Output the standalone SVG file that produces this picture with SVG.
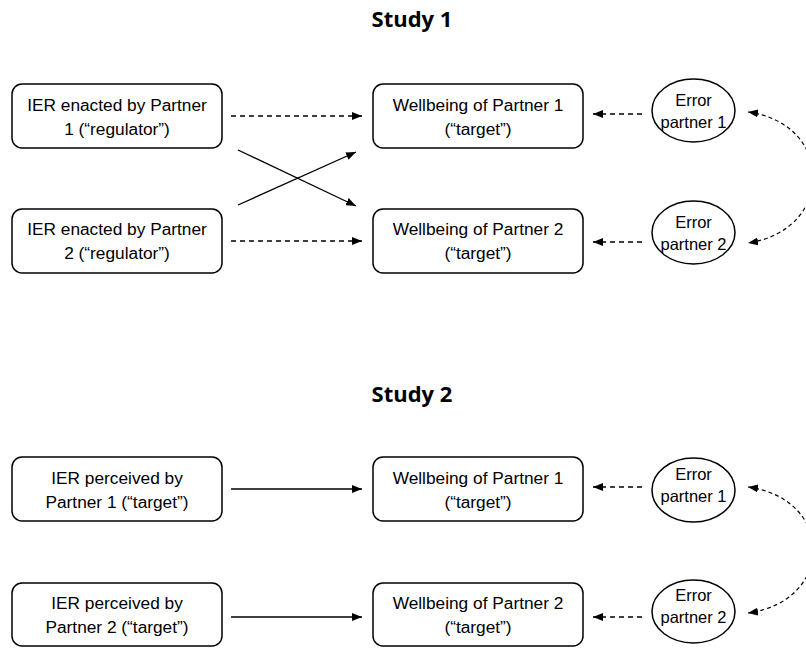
<svg xmlns="http://www.w3.org/2000/svg" width="806" height="648" viewBox="0 0 806 648">
<defs>
<style>
.box{fill:#fff;stroke:#000;stroke-width:1.5}
.ell{fill:#fff;stroke:#000;stroke-width:1.5}
.t{font-family:"Liberation Sans",Arial,sans-serif;font-size:17.3px;text-anchor:middle;fill:#000}
.te{font-family:"Liberation Sans",Arial,sans-serif;font-size:16.5px;text-anchor:middle;fill:#000}
.title{font-family:"Open Sans","Liberation Sans",sans-serif;font-size:22px;font-weight:bold;text-anchor:middle;fill:#000}
.solid{fill:none;stroke:#000;stroke-width:1.3;marker-end:url(#ah)}
.dash{fill:none;stroke:#000;stroke-width:1.3;stroke-dasharray:5,4;marker-end:url(#ah)}
.curve{fill:none;stroke:#000;stroke-width:1.2;stroke-dasharray:4,3;marker-start:url(#ah);marker-end:url(#ah)}
</style>
<marker id="ah" viewBox="0 0 10 8" refX="10" refY="4" markerWidth="10" markerHeight="8" markerUnits="userSpaceOnUse" orient="auto-start-reverse">
<path d="M0,0 L10,4 L0,8 Z" fill="#000"/>
</marker>
</defs>

<text class="title" x="412" y="27">Study 1</text>
<text class="title" x="412" y="402">Study 2</text>

<g id="connectors">
<line class="dash" x1="231" y1="116" x2="362" y2="116"/>
<line class="dash" x1="231" y1="241" x2="362" y2="241"/>
<line class="solid" x1="238" y1="150" x2="356" y2="206"/>
<line class="solid" x1="238" y1="205" x2="356" y2="152"/>
<line class="dash" x1="642" y1="114" x2="593" y2="114"/>
<line class="dash" x1="642" y1="242" x2="593" y2="242"/>
<path class="curve" d="M748,112 C835,124 835,230 748,243"/>
<line class="solid" x1="231" y1="489" x2="362" y2="489"/>
<line class="solid" x1="231" y1="617" x2="362" y2="617"/>
<line class="dash" x1="642" y1="487" x2="593" y2="487"/>
<line class="dash" x1="642" y1="617" x2="593" y2="617"/>
<path class="curve" d="M748,487 C835,499 835,601 748,613"/>
</g>

<g id="s1_ier1"><rect class="box" x="12" y="84" width="210" height="64" rx="10"/>
<text class="t" x="117" y="111">IER enacted by Partner</text><text class="t" x="117" y="135">1 (“regulator”)</text></g>
<g id="s1_ier2"><rect class="box" x="12" y="209" width="210" height="64" rx="10"/>
<text class="t" x="117" y="235">IER enacted by Partner</text><text class="t" x="117" y="259">2 (“regulator”)</text></g>
<g id="s1_wb1"><rect class="box" x="373" y="84" width="210" height="64" rx="10"/>
<text class="t" x="478" y="111">Wellbeing of Partner 1</text><text class="t" x="478" y="135">(“target”)</text></g>
<g id="s1_wb2"><rect class="box" x="373" y="209" width="210" height="64" rx="10"/>
<text class="t" x="478" y="235">Wellbeing of Partner 2</text><text class="t" x="478" y="259">(“target”)</text></g>
<g id="s1_err1"><ellipse class="ell" cx="693.5" cy="110.5" rx="41.5" ry="31.5"/>
<text class="te" x="693.5" y="106">Error</text><text class="te" x="693.5" y="128">partner 1</text></g>
<g id="s1_err2"><ellipse class="ell" cx="693.5" cy="232.5" rx="41.5" ry="31.5"/>
<text class="te" x="693.5" y="228">Error</text><text class="te" x="693.5" y="250">partner 2</text></g>

<g id="s2_ier1"><rect class="box" x="12" y="457" width="210" height="64" rx="10"/>
<text class="t" x="117" y="484">IER perceived by</text><text class="t" x="117" y="508">Partner 1 (“target”)</text></g>
<g id="s2_ier2"><rect class="box" x="12" y="583" width="210" height="63" rx="10"/>
<text class="t" x="117" y="609">IER perceived by</text><text class="t" x="117" y="633">Partner 2 (“target”)</text></g>
<g id="s2_wb1"><rect class="box" x="373" y="457" width="210" height="64" rx="10"/>
<text class="t" x="478" y="484">Wellbeing of Partner 1</text><text class="t" x="478" y="508">(“target”)</text></g>
<g id="s2_wb2"><rect class="box" x="373" y="583" width="210" height="63" rx="10"/>
<text class="t" x="478" y="609">Wellbeing of Partner 2</text><text class="t" x="478" y="633">(“target”)</text></g>
<g id="s2_err1"><ellipse class="ell" cx="693.5" cy="490" rx="41.5" ry="32"/>
<text class="te" x="693.5" y="480">Error</text><text class="te" x="693.5" y="502">partner 1</text></g>
<g id="s2_err2"><ellipse class="ell" cx="693.5" cy="611.5" rx="41.5" ry="31.5"/>
<text class="te" x="693.5" y="601">Error</text><text class="te" x="693.5" y="623">partner 2</text></g>
</svg>
